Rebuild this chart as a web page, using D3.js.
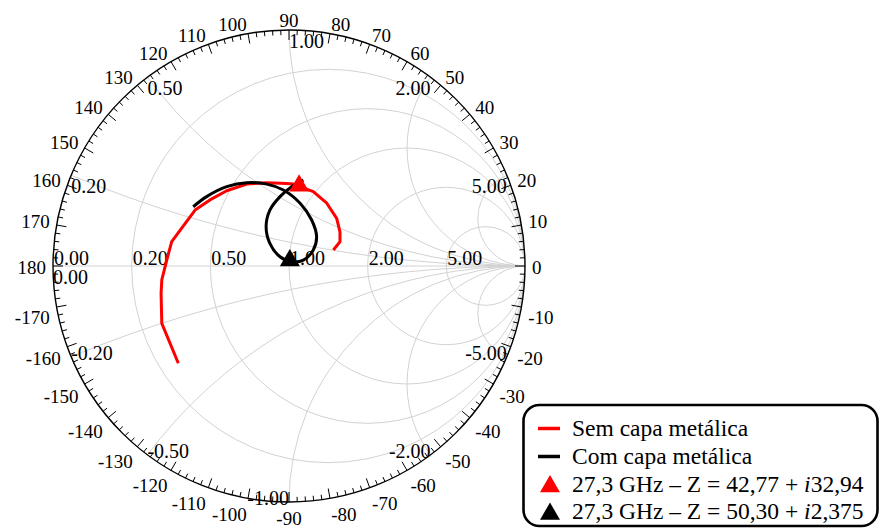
<!DOCTYPE html>
<html>
<head>
<meta charset="utf-8">
<script src="https://cdn.jsdelivr.net/npm/d3@7"></script>
<style>
  body { margin: 0; background: #fff; }
  svg { display: block; }
  text { font-family: "Liberation Serif", "Times New Roman", serif; fill: #000; }
</style>
</head>
<body>
<svg id="chart" width="880" height="528"></svg>
<script>
// Reflection coefficient traces (real and imaginary parts of Γ)
const semCapaRe = [-0.469, -0.539, -0.542, -0.539, -0.518, -0.497, -0.398, -0.335, -0.264, -0.179, -0.094, -0.010, 0.018, 0.103, 0.160, 0.202, 0.216, 0.216, 0.188];
const semCapaIm = [-0.412, -0.243, -0.116, -0.059, 0.025, 0.103, 0.237, 0.280, 0.319, 0.347, 0.353, 0.350, 0.347, 0.315, 0.266, 0.202, 0.145, 0.103, 0.068];

const comCapaRe = [-0.406, -0.349, -0.264, -0.179, -0.094, -0.024, 0.047, 0.096, 0.117, 0.103, 0.061, 0.011, -0.038, -0.081, -0.097, -0.081, -0.038, 0.011, 0.061];
const comCapaIm = [0.251, 0.294, 0.336, 0.353, 0.347, 0.322, 0.266, 0.195, 0.124, 0.068, 0.025, 0.018, 0.039, 0.096, 0.167, 0.237, 0.294, 0.336, 0.364];

// Series names and colours
const seriesNames = ["Sem capa metálica", "Com capa metálica"];
const seriesColors = ["#ff0000", "#000000"];

// Marked impedances at 27.3 GHz (ohms), reference impedance 50 ohms
const markerFreqLabel = "27,3 GHz";
const markerZRe = [42.77, 50.30];
const markerZIm = [32.94, 2.375];
const markerZReText = ["42,77", "50,30"];
const markerZImText = ["32,94", "2,375"];
const z0 = 50;

// Grid values
const realTicks = [0, 0.2, 0.5, 1, 2, 5];
const imagTicks = [0.2, 0.5, 1, 2, 5];
const imagLabelTicks = [0, 0.2, 0.5, 1, 2, 5, -0.2, -0.5, -1, -2, -5];
const angleLabels = [0, 10, 20, 30, 40, 50, 60, 70, 80, 90, 100, 110, 120, 130, 140, 150, 160, 170, 180,
                     -10, -20, -30, -40, -50, -60, -70, -80, -90, -100, -110, -120, -130, -140, -150, -160, -170];

const svg = d3.select("#chart");
const cx = 289, cy = 266, R = 236;

const x = d3.scaleLinear().domain([-1, 1]).range([cx - R, cx + R]);
const y = d3.scaleLinear().domain([-1, 1]).range([cy + R, cy - R]);
const len = d3.scaleLinear().domain([0, 1]).range([0, R]);

const gridColor = "#d2d2d2";

svg.append("defs").append("clipPath").attr("id", "unit")
  .append("circle").attr("cx", x(0)).attr("cy", y(0)).attr("r", len(1));

const grid = svg.append("g").attr("clip-path", "url(#unit)")
  .attr("fill", "none").attr("stroke", gridColor).attr("stroke-width", 1);

// constant resistance circles
grid.selectAll("circle.re").data(realTicks.filter(r => r > 0)).join("circle")
  .attr("class", "re")
  .attr("cx", r => x(r / (1 + r))).attr("cy", y(0))
  .attr("r", r => len(1 / (1 + r)));

// constant reactance arcs
const allImag = imagTicks.concat(imagTicks.map(v => -v));
grid.selectAll("circle.im").data(allImag).join("circle")
  .attr("class", "im")
  .attr("cx", x(1)).attr("cy", v => y(1 / v))
  .attr("r", v => len(1 / Math.abs(v)));

// real axis
grid.append("line").attr("x1", x(-1)).attr("x2", x(1)).attr("y1", y(0)).attr("y2", y(0));

// outer circle
svg.append("circle").attr("cx", x(0)).attr("cy", y(0)).attr("r", len(1))
  .attr("fill", "none").attr("stroke", "#000").attr("stroke-width", 1.4);

// angle ticks every 2 degrees, longer every 10
const tickAngles = d3.range(0, 360, 2);
svg.append("g").attr("stroke", "#000").attr("stroke-width", 1)
  .selectAll("line").data(tickAngles).join("line")
  .attr("x1", a => x(Math.cos(a * Math.PI / 180)))
  .attr("y1", a => y(Math.sin(a * Math.PI / 180)))
  .attr("x2", a => { const l = a % 10 === 0 ? 10 : 5; return x(Math.cos(a * Math.PI / 180) * (R - l) / R); })
  .attr("y2", a => { const l = a % 10 === 0 ? 10 : 5; return y(Math.sin(a * Math.PI / 180) * (R - l) / R); });

// angle labels
const angFs = 19;
const lr = (R + 7) / R;
svg.append("g").selectAll("text").data(angleLabels).join("text")
  .attr("font-size", angFs)
  .attr("x", a => x(Math.cos(a * Math.PI / 180) * lr))
  .attr("y", a => {
    const py = y(Math.sin(a * Math.PI / 180) * lr);
    if (a === 0 || a === 180) return py + 1;
    return a > 0 ? py + 4 : py + 3 + 0.66 * angFs;
  })
  .attr("dominant-baseline", a => (a === 0 || a === 180) ? "central" : "alphabetic")
  .attr("text-anchor", a => {
    const c = Math.cos(a * Math.PI / 180);
    if (Math.abs(c) < 1e-6) return "middle";
    return c > 0 ? "start" : "end";
  })
  .text(a => String(a));

// grid value labels
const gFs = 20;
svg.append("g").selectAll("text").data(realTicks).join("text")
  .attr("font-size", gFs)
  .attr("x", r => x((r - 1) / (r + 1)) + 1)
  .attr("y", y(0) - 1)
  .text(r => r.toFixed(2));

function gammaOfReactance(v) {
  // Γ for z = j·v
  const den = 1 + v * v;
  return [(v * v - 1) / den, (2 * v) / den];
}
svg.append("g").selectAll("text").data(imagLabelTicks).join("text")
  .attr("font-size", gFs)
  .attr("x", v => x(gammaOfReactance(v)[0]))
  .attr("y", v => {
    const py = y(gammaOfReactance(v)[1]);
    return v >= 0 ? py + 5 + 0.66 * gFs : py + 3;
  })
  .attr("text-anchor", v => (v > 1 || v <= -1) ? "end" : "start")
  .text(v => v.toFixed(2));

// traces
const line = d3.line().x(d => x(d[0])).y(d => y(d[1]));
const semCapa = semCapaRe.map((v, i) => [v, semCapaIm[i]]);
const comCapa = comCapaRe.map((v, i) => [v, comCapaIm[i]]);

svg.append("path").datum(semCapa)
  .attr("d", line.curve(d3.curveLinear))
  .attr("fill", "none").attr("stroke", seriesColors[0]).attr("stroke-width", 3)
  .attr("stroke-linejoin", "round");
svg.append("path").datum(comCapa)
  .attr("d", line.curve(d3.curveCatmullRom.alpha(0.5)))
  .attr("fill", "none").attr("stroke", seriesColors[1]).attr("stroke-width", 3)
  .attr("stroke-linejoin", "round");

// markers from impedance values
function zToGamma(re, im) {
  const a = re / z0, b = im / z0;
  const nr = a - 1, ni = b, dr = a + 1, di = b;
  const d = dr * dr + di * di;
  return [(nr * dr + ni * di) / d, (ni * dr - nr * di) / d];
}
const tri = d3.symbol().type(d3.symbolTriangle).size(173);
markerZRe.forEach((re, i) => {
  const g = zToGamma(re, markerZIm[i]);
  svg.append("path").attr("d", tri())
    .attr("transform", `translate(${x(g[0])},${y(g[1])})`)
    .attr("fill", seriesColors[i]);
});

// legend
const legend = svg.append("g");
legend.append("rect")
  .attr("x", 523.5).attr("y", 405).attr("width", 354).attr("height", 121)
  .attr("rx", 16).attr("fill", "#fff").attr("stroke", "#000").attr("stroke-width", 2.6);

const lFs = 23.5;
const rowY = [435.5, 463.5, 491.5, 519];
seriesNames.forEach((name, i) => {
  legend.append("line")
    .attr("x1", 538).attr("x2", 560).attr("y1", rowY[i] - 7).attr("y2", rowY[i] - 7)
    .attr("stroke", seriesColors[i]).attr("stroke-width", 3.5);
  legend.append("text").attr("x", 572).attr("y", rowY[i]).attr("font-size", lFs).text(name);
});
markerZRe.forEach((re, i) => {
  const ry = rowY[i + 2];
  legend.append("path").attr("d", tri())
    .attr("transform", `translate(550,${ry - 5})`)
    .attr("fill", seriesColors[i]);
  const t = legend.append("text").attr("x", 572).attr("y", ry).attr("font-size", lFs);
  t.append("tspan").text(`${markerFreqLabel} \u2013 Z = ${markerZReText[i]} + `);
  t.append("tspan").attr("font-style", "italic").text("i");
  t.append("tspan").text(markerZImText[i]);
});
</script>
</body>
</html>
